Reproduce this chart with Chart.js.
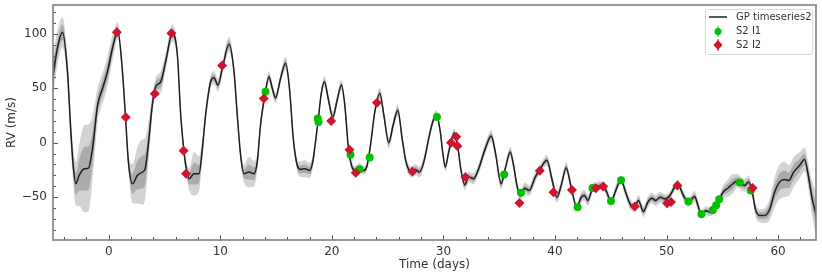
<!DOCTYPE html>
<html>
<head>
<meta charset="utf-8">
<script src="https://cdn.jsdelivr.net/npm/chart.js@4.4.1/dist/chart.umd.min.js"></script>
<style>
  html, body { margin: 0; padding: 0; background: #fff; }
  #wrap { width: 822px; height: 278px; }
</style>
</head>
<body>
<div id="wrap"><canvas id="rv"></canvas></div>
<script>
// GP mean (days, m/s) and its 1-sigma width
const gpDays = [-5.0, -4.6, -4.15, -3.7, -3.4, -3.19, -2.95, -2.65, -2.2, -1.82, -1.46, -1.0, -0.56, -0.12, 0.33, 0.81, 1.23, 1.5, 1.76, 2.12, 2.57, 3.02, 3.26, 3.6, 3.9, 4.2, 4.66, 5.1, 5.7, 6.15, 6.45, 6.75, 6.9, 7.2, 7.64, 8.09, 8.39, 8.68, 9.13, 9.43, 9.79, 10.18, 10.78, 11.23, 11.52, 11.82, 12.12, 12.57, 13.0, 13.31, 13.6, 14.0, 14.36, 14.66, 14.95, 15.4, 15.85, 16.2, 16.54, 16.9, 17.19, 17.58, 18.0, 18.3, 18.5, 18.77, 19.07, 19.34, 19.67, 20.09, 20.47, 20.86, 21.16, 21.46, 21.76, 22.11, 22.47, 22.86, 23.16, 23.46, 23.85, 24.3, 24.66, 25.1, 25.49, 25.91, 26.3, 26.65, 27.13, 27.49, 27.84, 28.24, 28.68, 29.04, 29.37, 29.72, 29.95, 30.17, 30.47, 30.98, 31.31, 31.6, 31.91, 32.27, 32.71, 33.16, 33.75, 34.29, 34.65, 35.18, 35.54, 35.99, 36.29, 36.59, 36.89, 37.28, 37.69, 38.23, 38.68, 39.28, 39.72, 40.17, 40.56, 41.0, 41.45, 41.96, 42.35, 42.65, 42.95, 43.37, 43.75, 44.26, 44.65, 45.03, 45.39, 45.93, 46.28, 46.73, 47.13, 47.48, 47.93, 48.32, 48.68, 49.03, 49.42, 49.87, 50.31, 50.71, 51.0, 51.51, 51.96, 52.52, 52.82, 53.12, 53.51, 53.93, 54.32, 54.76, 55.06, 55.5, 55.95, 56.4, 56.7, 57.0, 57.36, 57.69, 57.96, 58.34, 58.79, 59.24, 59.69, 60.13, 60.58, 60.97, 61.39, 61.93, 62.37, 62.76, 63.06, 63.36, 63.5];
const gpRv = [62, 87, 101.5, 65, 10, -21, -37.8, -30, -24, -23.4, -5.5, 34.4, 49.8, 65, 86.7, 102.7, 65, 23.5, -17.9, -37.8, -30, -27, -24, 3.7, 34.4, 51.3, 55.9, 74.4, 100.5, 80.5, 25.2, -8.7, -21, -33.2, -28.6, -28.6, -5.5, 25.2, 55.9, 59.6, 52.9, 68.3, 90.4, 65, 25.2, -11.7, -28.6, -27, -28.6, -17.9, 16, 43.6, 60.5, 49.8, 41.1, 59, 72.9, 49.8, 3.7, -21, -24.6, -24, -25.6, -17, -2, 20.6, 46.7, 55.9, 40.6, 23.6, 39, 52.9, 34.4, -2.5, -21, -25.6, -22.5, -25.6, -21, -2.5, 28.2, 45.2, 25.2, 0, 16, 29.8, 3.7, -17.9, -27, -24.6, -27, -17.9, 3.7, 19, 25.8, 9.8, -10, -22.5, -8.7, 8.9, -5.5, -27, -38.7, -31.7, -33.2, -24, -5.5, 6.1, -8.7, -37.8, -24, -8.7, -21, -39.4, -48.6, -41.9, -44, -31.7, -24, -16.3, -33.2, -50.2, -39.4, -23, -41, -59.4, -50.2, -48.6, -53.2, -41.9, -40, -39.4, -45.6, -54.8, -45.6, -34.1, -44, -56.3, -59.4, -53.2, -63.4, -54.8, -51.1, -53.2, -50.2, -51.7, -48.6, -41, -37.8, -48.6, -54.8, -49.5, -57.8, -66, -62.5, -64, -59.4, -51.7, -45.6, -41.9, -37.8, -34.8, -37.8, -39.4, -36.3, -45.6, -60.9, -67, -67, -61.5, -45.6, -36.3, -33.9, -34.8, -27.1, -21, -15.4, -33.2, -51.7, -64, -70];
const gpSigma = [10, 8, 7, 6, 7, 8, 10, 14, 20, 20, 15, 8, 7, 7, 6, 4, 3, 3, 4, 9, 13, 15, 14, 9, 5, 4, 5, 4, 4, 3, 3, 3, 3, 5, 10, 8, 5, 3, 3, 3, 3, 3, 3.5, 3, 3, 3, 4, 7, 6, 4, 3, 2.5, 2.5, 2.5, 2.5, 2.5, 3, 2.5, 2.5, 3, 3.5, 4, 3.5, 3, 2.5, 2, 2, 2.5, 2.5, 2.5, 2.5, 2.5, 2.5, 2, 2, 2, 2, 2, 2, 2, 2, 2.5, 2.5, 2.5, 2.5, 2.5, 2.5, 2.5, 2.5, 2.5, 2.5, 2.5, 2.5, 2, 2, 2, 2, 2, 2, 2, 2, 2, 2.5, 2.5, 2.5, 2.5, 2.5, 2.5, 2.5, 2.5, 2, 2.5, 2.5, 2.5, 2, 2.5, 2.5, 2.5, 2, 2.5, 2.5, 2.5, 2.5, 2.5, 2, 2, 2.5, 2.5, 2.5, 2, 2, 2, 2.5, 2, 2.5, 2, 2.5, 2.5, 2, 2.5, 2.5, 2.5, 2.5, 2.5, 2.5, 2, 2, 2, 2, 2, 2, 2.5, 2.5, 2, 2, 2, 2, 2, 3, 4, 4.5, 3, 3, 3, 3, 2.5, 3, 3, 3.5, 5, 7, 8, 8, 7, 7, 6, 5.5, 6, 8, 10, 11];

// S2 I1 (green) and S2 I2 (red) measurements
const i1Days = [14.05, 18.74, 18.8, 21.67, 22.49, 23.39, 29.42, 35.45, 36.95, 42.03, 43.37, 45.02, 45.93, 51.96, 53.13, 54.15, 54.45, 54.72, 56.57, 57.55];
const i1Rv = [46.7, 22.2, 19, -11.1, -24.5, -13.6, 23.6, -29.2, -46, -59.4, -41.7, -53.6, -34.5, -54, -65.5, -62, -57.5, -52, -36.6, -44];
const i2Days = [0.72, 1.52, 4.12, 5.61, 6.71, 6.93, 10.16, 13.9, 19.94, 21.58, 22.14, 24.04, 27.22, 30.68, 31.15, 31.25, 31.98, 36.82, 38.64, 39.86, 41.52, 43.66, 44.33, 47.16, 50.05, 50.4, 50.98, 57.72];
const i2Rv = [101.5, 23.3, 45, 100.5, -7.5, -28.6, 71, 40.6, 19.8, -6.5, -27.7, 36.7, -26.6, 0, 5.5, -3.1, -31.7, -55.5, -25.8, -45.6, -43.6, -41.9, -40.3, -58.8, -55.8, -54.5, -39.4, -41.7];

const xTicks = [0, 10, 20, 30, 40, 50, 60];
const yTicks = [-50, 0, 50, 100];

const FONT = '"DejaVu Sans", sans-serif';
const TXT = '#333333';

const pts = (xs, ys) => xs.map((x, i) => ({ x: x, y: ys[i] }));
const band = k => gpDays.map((x, i) => ({ x: x, y: gpRv[i] + k * gpSigma[i] }));
const minus = v => String(v).replace('-', '\u2212');

const frameAndLabels = {
    id: 'frameAndLabels',
    afterDraw(chart) {
        const ctx = chart.ctx;
        const a = chart.chartArea;
        const xs = chart.scales.x, ys = chart.scales.y;
        ctx.save();
        // inward ticks, left and bottom
        ctx.strokeStyle = '#555';
        ctx.lineWidth = 1;
        ctx.beginPath();
        for (let v = -4; v <= 63; v += 2) {
            const px = Math.round(xs.getPixelForValue(v)) + 0.5;
            const len = v % 10 === 0 ? 5 : 3;
            ctx.moveTo(px, a.bottom); ctx.lineTo(px, a.bottom - len);
        }
        for (let v = -80; v <= 120; v += 10) {
            const py = Math.round(ys.getPixelForValue(v)) + 0.5;
            const len = v % 50 === 0 ? 5 : 3;
            ctx.moveTo(a.left, py); ctx.lineTo(a.left + len, py);
        }
        ctx.stroke();
        // frame
        ctx.strokeStyle = '#808080';
        ctx.lineWidth = 1.6;
        ctx.strokeRect(a.left, a.top, a.right - a.left, a.bottom - a.top);

        // axis titles
        ctx.fillStyle = TXT;
        ctx.font = '12px ' + FONT;
        ctx.textAlign = 'center';
        ctx.textBaseline = 'middle';
        ctx.fillText('Time (days)', (a.left + a.right) / 2, 265);
        ctx.translate(12, (a.top + a.bottom) / 2);
        ctx.rotate(-Math.PI / 2);
        ctx.fillText('RV (m/s)', 0, 0);
        ctx.restore();

        // legend
        ctx.save();
        const lx = 705, ly = 9, lw = 107, lh = 45;
        ctx.fillStyle = 'rgba(255,255,255,0.85)';
        ctx.strokeStyle = '#d8d8d8';
        ctx.lineWidth = 1;
        ctx.beginPath();
        ctx.roundRect(lx + 0.5, ly + 0.5, lw, lh, 2);
        ctx.fill(); ctx.stroke();
        ctx.strokeStyle = '#222';
        ctx.lineWidth = 1.5;
        ctx.beginPath(); ctx.moveTo(709, 17); ctx.lineTo(727, 17); ctx.stroke();
        ctx.lineWidth = 1;
        ctx.strokeStyle = '#00c000';
        ctx.beginPath(); ctx.moveTo(718, 26); ctx.lineTo(718, 37); ctx.stroke();
        ctx.fillStyle = '#00c000';
        ctx.beginPath(); ctx.arc(718, 31.5, 3.5, 0, Math.PI * 2); ctx.fill();
        ctx.strokeStyle = '#d0142c';
        ctx.beginPath(); ctx.moveTo(718, 39); ctx.lineTo(718, 51); ctx.stroke();
        ctx.fillStyle = '#d0142c';
        ctx.beginPath();
        ctx.moveTo(718, 40); ctx.lineTo(722.5, 45); ctx.lineTo(718, 50); ctx.lineTo(713.5, 45);
        ctx.closePath(); ctx.fill();
        ctx.fillStyle = TXT;
        ctx.font = '10px ' + FONT;
        ctx.textAlign = 'left';
        ctx.textBaseline = 'middle';
        ctx.fillText('GP timeseries2', 736, 17);
        ctx.fillText('S2 I1', 736, 31.5);
        ctx.fillText('S2 I2', 736, 45);
        ctx.restore();
    }
};

const smooth = { showLine: true, pointRadius: 0, borderWidth: 0, cubicInterpolationMode: 'monotone' };

new Chart(document.getElementById('rv'), {
    type: 'scatter',
    data: {
        datasets: [
            { ...smooth, label: 'up2', data: band(2), fill: false, order: 4 },
            { ...smooth, label: 'lo2', data: band(-2), fill: '-1', backgroundColor: '#d3d3d3', order: 4 },
            { ...smooth, label: 'up1', data: band(1), fill: false, order: 3 },
            { ...smooth, label: 'lo1', data: band(-1), fill: '-1', backgroundColor: '#ababab', order: 3 },
            { ...smooth, label: 'GP timeseries2', data: pts(gpDays, gpRv), borderColor: '#1e1e1e', borderWidth: 1.5, fill: false, order: 2 },
            { label: 'S2 I1', data: pts(i1Days, i1Rv), pointStyle: 'circle', pointRadius: 4, pointBackgroundColor: '#00c000', pointBorderWidth: 0, order: 1 },
            { label: 'S2 I2', data: pts(i2Days, i2Rv), pointStyle: 'rectRot', pointRadius: 5, pointBackgroundColor: '#d0142c', pointBorderWidth: 0, order: 0 }
        ]
    },
    options: {
        responsive: true,
        maintainAspectRatio: false,
        animation: false,
        layout: { padding: { top: 5, right: 6, left: 0, bottom: 0 } },
        plugins: { legend: { display: false }, tooltip: { enabled: false } },
        scales: {
            x: {
                type: 'linear', min: -5, max: 63.4,
                grid: { display: false, drawTicks: false },
                border: { display: false },
                afterFit: s => { s.height = 38; s.paddingLeft = 0; s.paddingRight = 0; },
                afterBuildTicks: s => { s.ticks = xTicks.map(v => ({ value: v })); },
                ticks: { padding: 5, color: TXT, font: { family: FONT, size: 12 }, callback: v => minus(v) }
            },
            y: {
                type: 'linear', min: -89.5, max: 126.5,
                grid: { display: false, drawTicks: false },
                border: { display: false },
                afterFit: s => { s.width = 53; s.paddingTop = 0; s.paddingBottom = 0; },
                afterBuildTicks: s => { s.ticks = yTicks.map(v => ({ value: v })); },
                ticks: { padding: 6, color: TXT, font: { family: FONT, size: 12 }, callback: v => minus(v) }
            }
        }
    },
    plugins: [frameAndLabels]
});
</script>
</body>
</html>
